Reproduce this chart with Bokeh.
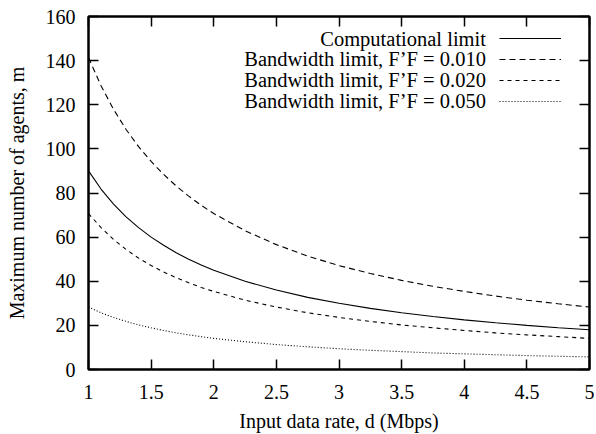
from bokeh.plotting import figure
from bokeh.models import (LinearAxis, FixedTicker, Legend, LegendItem, Label,
                          Range1d, CustomLabelingPolicy)
from bokeh.embed import file_html
from bokeh.resources import INLINE

# ---- data ----
d_rate = [1.0, 1.1, 1.2, 1.3, 1.4, 1.5, 1.6, 1.7, 1.8, 1.9, 2.0,
          2.25, 2.5, 2.75, 3.0, 3.25, 3.5, 3.75, 4.0, 4.25, 4.5, 4.75, 5.0]
comp_limit = [90, 81.8, 75, 69.2, 64.3, 60, 56.3, 52.9, 50, 47.4, 45,
              40, 36, 32.7, 30, 27.7, 25.7, 24, 22.5, 21.2, 20, 18.9, 18]
bw_010 = [141.4, 128.6, 117.9, 108.8, 101, 94.3, 88.4, 83.2, 78.6, 74.4, 70.7,
          62.9, 56.6, 51.4, 47.1, 43.5, 40.4, 37.7, 35.4, 33.3, 31.4, 29.8, 28.3]
bw_020 = [70.7, 64.3, 58.9, 54.4, 50.5, 47.1, 44.2, 41.6, 39.3, 37.2, 35.4,
          31.4, 28.3, 25.7, 23.6, 21.8, 20.2, 18.9, 17.7, 16.6, 15.7, 14.9, 14.1]
bw_050 = [28.3, 25.7, 23.6, 21.8, 20.2, 18.9, 17.7, 16.6, 15.7, 14.9, 14.1,
          12.6, 11.3, 10.3, 9.4, 8.7, 8.1, 7.5, 7.1, 6.7, 6.3, 6.0, 5.7]

series_labels = ["Computational limit",
                 "Bandwidth limit, F\u2019F = 0.010",
                 "Bandwidth limit, F\u2019F = 0.020",
                 "Bandwidth limit, F\u2019F = 0.050"]
x_ticks = [1, 1.5, 2, 2.5, 3, 3.5, 4, 4.5, 5]
x_tick_labels = ["1", "1.5", "2", "2.5", "3", "3.5", "4", "4.5", "5"]
y_ticks = [0, 20, 40, 60, 80, 100, 120, 140, 160]
y_tick_labels = ["0", "20", "40", "60", "80", "100", "120", "140", "160"]
x_title = "Input data rate, d (Mbps)"
y_title = "Maximum number of agents, m"

FONT = "Liberation Serif"
FS = "20px"

p = figure(frame_width=501, frame_height=353,
           x_range=Range1d(1, 5), y_range=Range1d(0, 160),
           output_backend="svg", toolbar_location=None,
           min_border_left=88, min_border_top=16, min_border_bottom=60,
           min_border_right=5)
p.grid.visible = False
p.outline_line_color = "black"
p.outline_line_width = 2
p.background_fill_color = "white"
p.border_fill_color = "white"

# main axes
p.xaxis.ticker = FixedTicker(ticks=x_ticks)
p.xaxis.major_label_overrides = {t: s for t, s in zip(x_ticks, x_tick_labels)}
p.yaxis.ticker = FixedTicker(ticks=y_ticks)
p.yaxis.major_label_overrides = {t: s for t, s in zip(y_ticks, y_tick_labels)}
p.xaxis.axis_label = x_title
p.yaxis.axis_label = y_title

for ax in [p.xaxis[0], p.yaxis[0]]:
    ax.major_tick_in = 10
    ax.major_tick_out = 0
    ax.minor_tick_line_color = None
    ax.major_tick_line_width = 1.5
    ax.axis_line_width = 2
    ax.major_label_text_font = FONT
    ax.major_label_text_font_size = FS
    ax.major_label_text_color = "black"
    ax.axis_label_text_font = FONT
    ax.axis_label_text_font_size = FS
    ax.axis_label_text_font_style = "normal"
    ax.axis_label_text_color = "black"
p.xaxis.major_label_standoff = 15
p.xaxis.axis_label_standoff = 8
p.yaxis.major_label_standoff = 13
p.yaxis.axis_label_standoff = 15

# mirror ticks (top and right), without labels
hide_all = CustomLabelingPolicy(code="""
    const idx = [...indices]
    for (const i of idx) indices.unset(i)
    return indices
""")
top = LinearAxis(ticker=FixedTicker(ticks=x_ticks))
right = LinearAxis(ticker=FixedTicker(ticks=y_ticks))
for ax in [top, right]:
    ax.major_tick_in = 10
    ax.major_tick_out = 0
    ax.minor_tick_line_color = None
    ax.major_tick_line_width = 1.5
    ax.axis_line_width = 2
    ax.major_label_policy = hide_all
    ax.major_label_text_font_size = "1px"
    ax.major_label_standoff = 0
p.add_layout(top, "above")
p.add_layout(right, "right")

# curves
r0 = p.line(d_rate, comp_limit, line_color="black", line_width=1.1)
r1 = p.line(d_rate, bw_010, line_color="black", line_width=1.1, line_dash="6 4")
r2 = p.line(d_rate, bw_020, line_color="black", line_width=1.1, line_dash="4 4")
r3 = p.line(d_rate, bw_050, line_color="black", line_width=1.1, line_dash="1 2")
renderers = [r0, r1, r2, r3]

# legend: samples on the right, text right-aligned to the left of them
legend = Legend(items=[LegendItem(label="", renderers=[r]) for r in renderers],
                location=(411, 258), orientation="vertical",
                glyph_width=62, glyph_height=20, label_width=0, label_height=20,
                label_standoff=0, padding=0, margin=0, spacing=1,
                label_text_font_size="1px",
                border_line_alpha=0, background_fill_alpha=0)
p.add_layout(legend, "center")

label_y = [150.0, 140.6, 131.0, 121.5]
for txt, yy in zip(series_labels, label_y):
    p.add_layout(Label(x=4.173, y=yy, text=txt, text_align="right",
                       text_baseline="middle", text_font=FONT,
                       text_font_size="20.5px", text_color="black"))

open("out.html", "w").write(file_html(p, INLINE))
